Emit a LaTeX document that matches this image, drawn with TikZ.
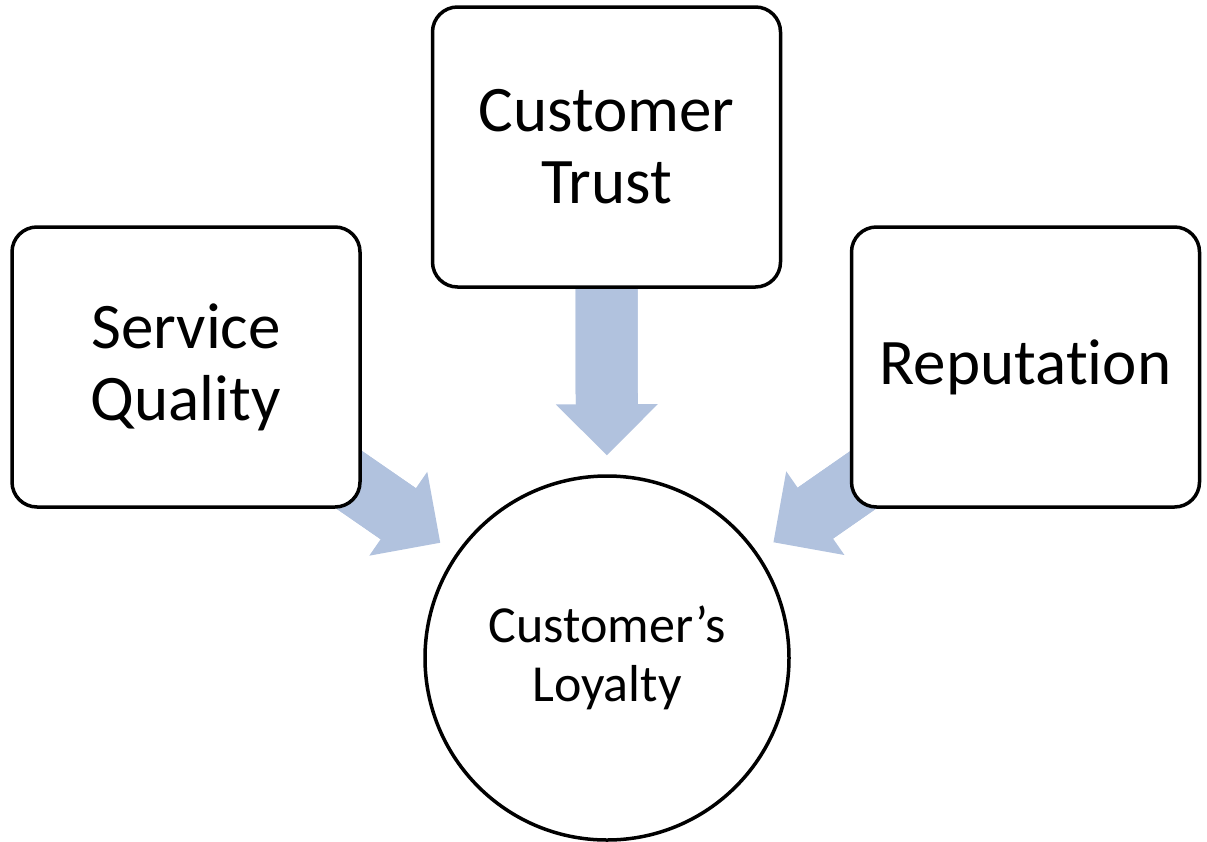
\documentclass[tikz,border=0pt]{standalone}
\usepackage{fontspec}
\setmainfont{Carlito}[Ligatures=NoCommon]
\usepackage{xcolor}
\usepackage{tikz}
\usetikzlibrary{arrows.meta, backgrounds}

\definecolor{flowblue}{RGB}{177,194,222}

\tikzset{
    factor/.style={draw, line width=3.5pt, rounded corners=25pt, fill=white,
        minimum width=348pt, minimum height=280pt, align=center,
        font=\fontsize{65}{72}\selectfont},
    outcome/.style={draw, circle, line width=3.5pt, fill=white, inner sep=0pt,
        minimum size=364pt, align=center, font=\fontsize{52}{59}\selectfont},
    % fat shaft runs a little into the head so no seam shows
    flow/.style={draw=flowblue, line width=62pt, shorten >=19pt,
        -{Triangle[length=51pt 0, width=102pt 0, line width'=0pt]},
        postaction={draw=flowblue, line width=62pt, -, shorten >=62pt}}
}

\begin{document}
\begin{tikzpicture}[x=1pt, y=-1pt]
            \useasboundingbox (0, 0) rectangle (1207, 841);

            \node[factor] (trust) at (606.5, 147) {Customer\\Trust};
            \node[factor] (service) at (186, 367) {Service\\Quality};
            \node[factor] (reputation) at (1025.5, 367) {Reputation};
            \node[outcome] (loyalty) at (607, 658) {Customer’s\\Loyalty};

            \begin{scope}[on background layer]
                \draw[flow] (trust.center) -- (loyalty); % trust -> loyalty
                \draw[flow] (service.center) -- (loyalty); % quality -> loyalty
                \draw[flow] (reputation.center) -- (loyalty); % reputation -> loyalty
            \end{scope}
        \end{tikzpicture}
\end{document}
